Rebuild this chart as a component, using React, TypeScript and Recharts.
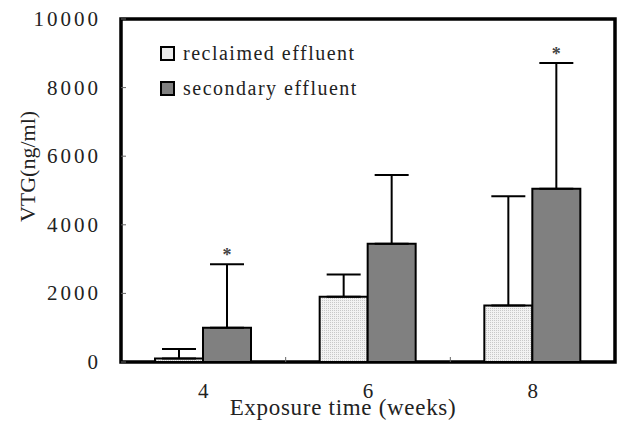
import { ComposedChart, Bar, XAxis, YAxis, ErrorBar, LabelList, Legend, ReferenceArea } from "recharts";

const weeks = ["4", "6", "8"];
const reclaimed = [100, 1900, 1650];
const reclaimedSd = [280, 650, 3180];
const secondary = [1000, 3450, 5050];
const secondarySd = [1850, 2000, 3670];
const significant = [true, false, true];
const yTicks = [0, 2000, 4000, 6000, 8000, 10000];

const data = weeks.map((w, i) => ({
  week: w,
  reclaimed: reclaimed[i],
  reclaimedErr: [0, reclaimedSd[i]],
  secondary: secondary[i],
  secondaryErr: [0, secondarySd[i]],
  star: significant[i] ? "*" : "",
}));

const FONT = "'Liberation Serif', 'Times New Roman', serif";

const YTick = ({ x, y, payload }: any) => (
  <g>
    <line x1={x} x2={x + 5} y1={y} y2={y} stroke="#666" strokeWidth={1} />
    <text
      x={x - 20}
      y={y}
      dy={7}
      textAnchor="end"
      fontFamily={FONT}
      fontSize={21}
      letterSpacing={3}
      fill="#222"
    >
      {payload.value}
    </text>
  </g>
);

const XTick = ({ x, y, payload, index }: any) => (
  <g>
    {index < 2 && payload.offset ? (
      <line x1={x + payload.offset} x2={x + payload.offset} y1={y} y2={y - 5} stroke="#666" strokeWidth={1} />
    ) : null}
    <text x={x} y={y} dy={36} textAnchor="middle" fontFamily={FONT} fontSize={21} fill="#222">
      {payload.value}
    </text>
  </g>
);

// asterisk above the error bar, using the bar's own px/unit ratio
const Star = (props: any) => {
  const { x, y, width, height, value, index } = props;
  if (!value) return null;
  const top = y - (secondarySd[index] * height) / secondary[index];
  return (
    <text x={x + width / 2} y={top - 3} textAnchor="middle" fontWeight="bold" fontFamily={FONT} fontSize={18} fill="#444">
      *
    </text>
  );
};

const LegendBox = () => (
  <div style={{ fontFamily: FONT, fontSize: 20, letterSpacing: 1.5, color: "#222", lineHeight: "35px" }}>
    {[
      { name: "reclaimed effluent", fill: "#ebebeb" },
      { name: "secondary effluent", fill: "#808080" },
    ].map((it) => (
      <div key={it.name} style={{ display: "flex", alignItems: "center" }}>
        <span
          style={{
            display: "inline-block",
            width: 11,
            height: 11,
            border: "2px solid #000",
            background: it.fill,
            marginRight: 8,
          }}
        />
        {it.name}
      </div>
    ))}
  </div>
);

export default function App() {
  return (
    <div style={{ position: "absolute", left: 0, top: 0, background: "#fff" }}>
      <ComposedChart
        width={642}
        height={423}
        data={data}
        margin={{ top: 19, right: 27, bottom: 0, left: 0 }}
        barGap={0}
      >
        <defs>
          <pattern id="dots" width="2" height="2" patternUnits="userSpaceOnUse">
            <rect width="2" height="2" fill="#f2f2f2" />
            <rect width="1" height="1" fill="#c8c8c8" />
          </pattern>
        </defs>

        <XAxis
          dataKey="week"
          height={61}
          axisLine={false}
          tickLine={false}
          tickSize={0}
          tickMargin={0}
          tick={<XTick />}
          label={{
            value: "Exposure time (weeks)",
            position: "insideBottom",
            offset: 8,
            dx: -25,
            fontSize: 23,
            letterSpacing: 0.7,
            fontFamily: FONT,
            fill: "#222",
          }}
        />

        <YAxis
          width={121}
          domain={[0, 10000]}
          ticks={yTicks}
          axisLine={false}
          tickLine={false}
          tickSize={0}
          tickMargin={0}
          tick={<YTick />}
          label={{
            value: "VTG(ng/ml)",
            angle: -90,
            position: "center",
            dx: -33,
            dy: -24,
            fontSize: 22,
            fontFamily: FONT,
            fill: "#222",
          }}
        />

        <Legend
          layout="horizontal"
          verticalAlign="middle"
          align="center"
          content={<LegendBox />}
          wrapperStyle={{ position: "absolute", left: 160, top: 36, width: "auto", height: "auto" }}
        />

        <Bar dataKey="reclaimed" barSize={48} fill="url(#dots)" stroke="#000" strokeWidth={2} isAnimationActive={false}>
          <ErrorBar dataKey="reclaimedErr" direction="y" width={17} stroke="#000" strokeWidth={2} isAnimationActive={false} />
        </Bar>
        <Bar dataKey="secondary" barSize={48} fill="#808080" stroke="#000" strokeWidth={2} isAnimationActive={false}>
          <ErrorBar dataKey="secondaryErr" direction="y" width={17} stroke="#000" strokeWidth={2} isAnimationActive={false} />
          <LabelList dataKey="star" content={<Star />} />
        </Bar>

        {/* plot frame */}
        <ReferenceArea y1={0} y2={10000} fill="none" stroke="#000" strokeWidth={3.5} />
      </ComposedChart>
    </div>
  );
}
